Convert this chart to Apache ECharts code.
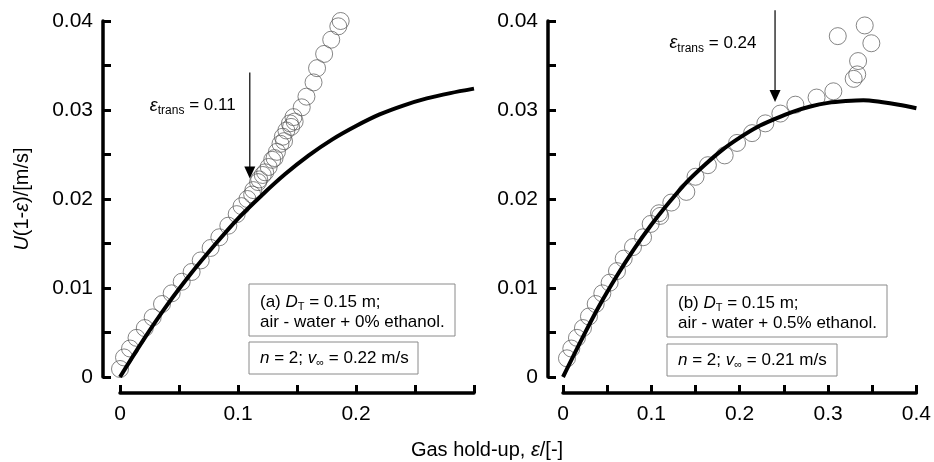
<!DOCTYPE html>
<html>
<head>
<meta charset="utf-8">
<script src="https://cdn.jsdelivr.net/npm/echarts@6/dist/echarts.min.js"></script>
<style>
  html, body { margin: 0; padding: 0; background: #fff; }
  #chart { width: 934px; height: 462px; }
</style>
</head>
<body>
<div id="chart"></div>
<script>
// (a) 0% ethanol: measured points [hold-up, U(1-e)]
var pointsA = [
  [0.000, 0.0009], [0.0034, 0.0022], [0.0085, 0.0032], [0.014, 0.0044], [0.021, 0.0055],
  [0.0277, 0.0067], [0.0356, 0.0082], [0.0438, 0.0094], [0.0523, 0.0107], [0.0607, 0.0118],
  [0.0684, 0.0131], [0.0768, 0.0145], [0.0842, 0.0157], [0.0918, 0.0170], [0.0989, 0.0183],
  [0.103, 0.0192], [0.108, 0.0200], [0.112, 0.0205], [0.113, 0.0210], [0.117, 0.0219],
  [0.118, 0.0222], [0.121, 0.0227], [0.123, 0.0230], [0.126, 0.0236], [0.129, 0.0244],
  [0.131, 0.0246], [0.133, 0.0253], [0.136, 0.0262], [0.138, 0.0270], [0.139, 0.0265],
  [0.141, 0.0277], [0.144, 0.0285], [0.145, 0.0281], [0.147, 0.0292], [0.148, 0.0287],
  [0.154, 0.0303], [0.158, 0.0315], [0.164, 0.0331], [0.167, 0.0347], [0.173, 0.0363],
  [0.179, 0.0379], [0.185, 0.0394], [0.187, 0.0400]
];
// (a) model curve
var curveA = [
  [0, 0], [0.02, 0.0042], [0.04, 0.0081], [0.06, 0.0116], [0.08, 0.0148], [0.10, 0.0178],
  [0.12, 0.0204], [0.14, 0.0228], [0.16, 0.0249], [0.18, 0.0267], [0.20, 0.0282],
  [0.22, 0.0295], [0.24, 0.0305], [0.26, 0.0313], [0.28, 0.0319], [0.30, 0.0324]
];
// (b) 0.5% ethanol
var pointsB = [
  [0.0045, 0.0021], [0.0094, 0.0032], [0.0158, 0.0044], [0.0226, 0.0055], [0.0294, 0.0068],
  [0.037, 0.0082], [0.0445, 0.0094], [0.0528, 0.0106], [0.0611, 0.0119], [0.0687, 0.0133],
  [0.0792, 0.0146], [0.0906, 0.0157], [0.0992, 0.0172], [0.1087, 0.0184], [0.110, 0.0181],
  [0.1226, 0.0196], [0.1396, 0.0208], [0.150, 0.0225], [0.164, 0.0238], [0.183, 0.0249],
  [0.197, 0.0263], [0.214, 0.0274], [0.229, 0.0285], [0.246, 0.0296], [0.263, 0.0306],
  [0.287, 0.0314], [0.306, 0.0321], [0.329, 0.0335], [0.333, 0.0340], [0.334, 0.0355],
  [0.311, 0.0383], [0.3415, 0.0395], [0.349, 0.0375]
];
var curveB = [
  [0, 0], [0.02, 0.0040], [0.04, 0.0078], [0.06, 0.0112], [0.08, 0.0143], [0.10, 0.0171],
  [0.12, 0.0196], [0.14, 0.0219], [0.16, 0.0238], [0.18, 0.0255], [0.20, 0.0269],
  [0.22, 0.0281], [0.24, 0.0290], [0.26, 0.0298], [0.28, 0.0304], [0.30, 0.0308],
  [0.32, 0.0310], [0.34, 0.0311], [0.36, 0.0309], [0.38, 0.0306], [0.40, 0.0302]
];
// transition arrows: [hold-up, from, to]
var arrowA = [0.11, 0.0342, 0.0223];
var arrowB = [0.24, 0.0412, 0.0309];

var yTickLabels = ['0', '0.01', '0.02', '0.03', '0.04'];
var xTickLabelsA = ['0', '0.1', '0.2'];
var xTickLabelsB = ['0', '0.1', '0.2', '0.3', '0.4'];

var font = 'Liberation Sans, Arial, Helvetica, sans-serif';

function everyOther (labels, step) {
  return function (v) {
    var i = Math.round(v / step);
    if (i % 2 !== 0) return '';
    return labels[i / 2] || '';
  }
}

var subRich = {
  p: { fontFamily: font, fontSize: 17, color: '#000', lineHeight: 20 },
  i: { fontFamily: font, fontSize: 17, color: '#000', fontStyle: 'italic', lineHeight: 20 },
  sub: { fontFamily: font, fontSize: 11, color: '#000', lineHeight: 10, padding: [10, 0, 0, 0] }
};

function xAxisOf (idx, max, labels) {
  return {
    type: 'value', gridIndex: idx, min: 0, max: max, interval: 0.05, offset: 16,
    axisLine: { onZero: false, lineStyle: { color: '#000', width: 3.5 } },
    axisTick: { inside: true, length: 8, lineStyle: { color: '#000', width: 3 } },
    axisLabel: { formatter: everyOther(labels, 0.05), fontFamily: font, fontSize: 21, color: '#000', margin: 11 },
    splitLine: { show: false }
  }
}

function yAxisOf (idx, offset, withName) {
  var ax = {
    type: 'value', gridIndex: idx, min: 0, max: 0.04, interval: 0.005, offset: offset,
    axisLine: { onZero: false, lineStyle: { color: '#000', width: 3.5 } },
    axisTick: { inside: true, length: 8, lineStyle: { color: '#000', width: 3 } },
    axisLabel: { formatter: everyOther(yTickLabels, 0.005), fontFamily: font, fontSize: 21, color: '#000', margin: 10 },
    splitLine: { show: false }
  }
  if (withName) {
    ax.name = '{i|U}{p|(1-}{i|ε}{p|)/[m/s]}'
    ax.nameLocation = 'middle'
    ax.nameGap = 71
    ax.nameTextStyle = {
      rich: {
        p: { fontFamily: font, fontSize: 20, color: '#000' },
        i: { fontFamily: font, fontSize: 20, color: '#000', fontStyle: 'italic' }
      }
    }
  }
  return ax
}

function scatterOf (idx, data) {
  return {
    type: 'scatter', xAxisIndex: idx, yAxisIndex: idx, data: data, symbolSize: 17, clip: false,
    itemStyle: { color: 'rgba(0,0,0,0)', borderColor: '#555', borderWidth: 0.9 },
    z: 2
  }
}

function curveOf (idx, data, labelAt, labelText) {
  return {
    type: 'line', xAxisIndex: idx, yAxisIndex: idx, data: data, smooth: 0.3,
    showSymbol: false, clip: false, lineStyle: { color: '#000', width: 4 }, z: 3,
    markPoint: {
      silent: true, symbol: 'circle', symbolSize: 0,
      data: [{ coord: labelAt }],
      label: {
        show: true, position: 'left', distance: 0,
        formatter: labelText,
        rich: {
          p: { fontFamily: font, fontSize: 17, color: '#000' },
          i: { fontFamily: font, fontSize: 18, color: '#000', fontStyle: 'italic' },
          sub: { fontFamily: font, fontSize: 12, color: '#000', lineHeight: 10, padding: [11, 0, 0, 0] }
        }
      }
    }
  }
}

function boxOf (x, y, w, h, text) {
  return [
    { type: 'rect', shape: { x: x, y: y, width: w, height: h },
      style: { fill: '#fff', stroke: '#8a8a8a', lineWidth: 1 }, z: 10 },
    { type: 'text', x: x + 11, y: y + (h > 40 ? 8 : 6),
      style: { text: text, rich: subRich, fill: '#000' }, z: 11 }
  ]
}

var option = {
  animation: false,
  backgroundColor: '#fff',
  grid: [
    { left: 120, top: 21, width: 354, height: 356 },
    { left: 563, top: 21, width: 354, height: 356 }
  ],
  xAxis: [xAxisOf(0, 0.3, xTickLabelsA), xAxisOf(1, 0.4, xTickLabelsB)],
  yAxis: [yAxisOf(0, 17, true), yAxisOf(1, 15, false)],
  series: [
    scatterOf(0, pointsA),
    curveOf(0, curveA, [0.098, 0.0305], '{i|ε}{sub|trans}{p| = 0.11}'),
    scatterOf(1, pointsB),
    curveOf(1, curveB, [0.219, 0.0375], '{i|ε}{sub|trans}{p| = 0.24}')
  ],
  graphic: [].concat(
    boxOf(249, 284, 206, 52, '{p|(a) }{i|D}{sub|T}{p| = 0.15 m;}\n{p|air - water + 0% ethanol.}'),
    boxOf(249, 342, 169, 32, '{i|n}{p| = 2; }{i|v}{sub|∞}{p| = 0.22 m/s}'),
    boxOf(667, 285, 220, 52, '{p|(b) }{i|D}{sub|T}{p| = 0.15 m;}\n{p|air - water + 0.5% ethanol.}'),
    boxOf(667, 344, 170, 32, '{i|n}{p| = 2; }{i|v}{sub|∞}{p| = 0.21 m/s}'),
    [{
      type: 'text', x: 487, y: 450,
      style: {
        text: '{p|Gas hold-up, }{i|ε}{p|/[-]}', align: 'center', verticalAlign: 'middle',
        rich: {
          p: { fontFamily: font, fontSize: 20, color: '#000' },
          i: { fontFamily: font, fontSize: 20, color: '#000', fontStyle: 'italic' }
        }
      }
    }]
  )
}

var myChart = echarts.init(document.getElementById('chart'), null, { renderer: 'canvas' })
myChart.setOption(option)

// arrows placed through the axes' own scales
function arrowOf (gridIndex, a) {
  var p0 = myChart.convertToPixel({ gridIndex: gridIndex }, [a[0], a[1]])
  var p1 = myChart.convertToPixel({ gridIndex: gridIndex }, [a[0], a[2]])
  return [
    { type: 'line', shape: { x1: p0[0], y1: p0[1], x2: p1[0], y2: p1[1] - 10 },
      style: { stroke: '#000', lineWidth: 1.2 }, z: 12 },
    { type: 'polygon', shape: { points: [[p1[0] - 5.5, p1[1] - 12], [p1[0] + 5.5, p1[1] - 12], [p1[0], p1[1]]] },
      style: { fill: '#000' }, z: 12 }
  ]
}
option.graphic = option.graphic.concat(arrowOf(0, arrowA), arrowOf(1, arrowB))
myChart.setOption(option, true)
</script>
</body>
</html>
